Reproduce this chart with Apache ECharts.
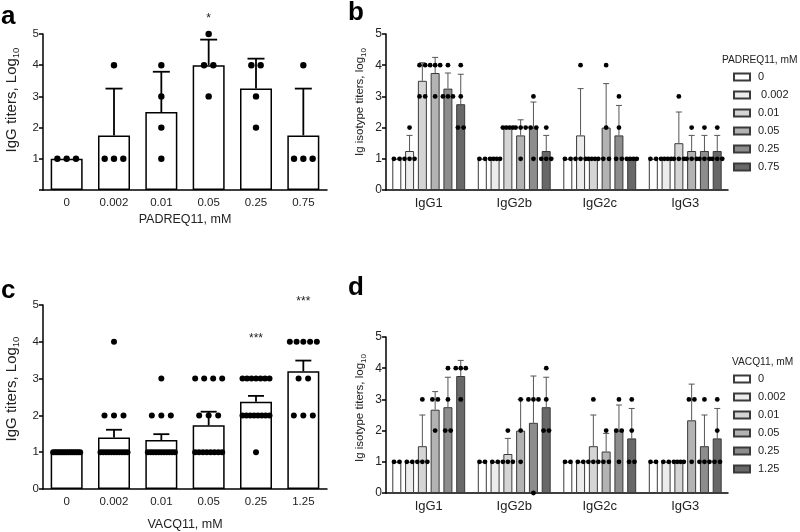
<!DOCTYPE html>
<html><head><meta charset="utf-8">
<script src="https://cdn.jsdelivr.net/npm/echarts@6.0.0/dist/echarts.min.js"></script>
<style>html,body{margin:0;padding:0;background:#fff}#chart{width:800px;height:532px}</style>
</head><body><div id="chart"></div><script>
// ---------- Panel a : PADREQ11 total IgG ----------
const catsA = ['0', '0.002', '0.01', '0.05', '0.25', '0.75'];
const meanA = [1, 1.75, 2.5, 4, 3.25, 1.75];
const errTopA = [null, 3.25, 3.79, 4.82, 4.21, 3.25];
const ptsA = [[1,1,1],[4,1,1,1],[4,3,2,1],[5,4,4,3],[4,4,3,2],[4,1,1,1]];
const sigA = ['', '', '', '*', '', ''];

// ---------- Panel c : VACQ11 total IgG ----------
const catsC = ['0', '0.002', '0.01', '0.05', '0.25', '1.25'];
const meanC = [1, 1.4, 1.33, 1.73, 2.37, 3.2];
const errTopC = [null, 1.61, 1.49, 2.1, 2.53, 3.49];
const ptsC = [
  [1,1,1,1,1,1,1,1,1,1,1,1,1,1,1],
  [4,2,2,2,1,1,1,1,1,1,1,1,1,1,1],
  [3,2,2,2,1,1,1,1,1,1,1,1,1,1,1],
  [3,3,3,3,2,2,2,1,1,1,1,1,1,1,1],
  [3,3,3,3,3,3,3,2,2,2,2,2,2,2,2,1],
  [4,4,4,4,4,3,3,2,2,2]
];
const sigC = ['', '', '', '', '***', '***'];

// ---------- Panel b : PADREQ11 isotypes ----------
const isotypes = ['IgG1', 'IgG2b', 'IgG2c', 'IgG3'];
const concB = ['0', '0.002', '0.01', '0.05', '0.25', '0.75'];
const meanB = [
  [1, 1, 1, 1],
  [1.25, 1, 1.75, 1],
  [3.5, 2, 1, 1.5],
  [3.75, 1.75, 2, 1.25],
  [3.25, 2, 1.75, 1.25],
  [2.75, 1.25, 1, 1.25]
];
const errTopB = [
  [null, null, null, null],
  [1.75, null, 3.25, null],
  [4.08, null, null, 2.5],
  [4.25, 2.25, 3.41, 1.75],
  [3.75, 2.82, 2.71, 1.75],
  [3.71, 1.75, null, 1.75]
];
const ptsB = [
  [[1,1],[1,1],[1,1],[1,1]],
  [[2,1,1,1],[1,1,1,1],[4,1,1,1],[1,1,1,1]],
  [[4,4,3,3],[2,2,2,2],[1,1,1,1],[3,1,1,1]],
  [[4,4,4,3],[2,2,2,1],[4,2,1,1],[2,1,1,1]],
  [[4,3,3,3],[3,2,2,1],[3,2,1,1],[2,1,1,1]],
  [[4,3,2,2],[2,1,1,1],[1,1,1,1],[2,1,1,1]]
];

// ---------- Panel d : VACQ11 isotypes ----------
const concD = ['0', '0.002', '0.01', '0.05', '0.25', '1.25'];
const meanD = [
  [1, 1, 1, 1],
  [1, 1, 1, 1],
  [1.5, 1.25, 1.5, 1],
  [2.67, 2, 1.33, 2.33],
  [2.75, 2.25, 2, 1.5],
  [3.75, 2.75, 1.75, 1.75]
];
const errTopD = [
  [null, null, null, null],
  [null, null, null, null],
  [2.5, 1.75, 2.5, null],
  [3.25, 3, 1.91, 3.49],
  [3.71, 3.75, 2.82, 2.5],
  [4.25, 3.71, 2.71, 2.71]
];
const ptsD = [
  [[1,1],[1,1],[1,1],[1,1]],
  [[1,1],[1,1],[1,1],[1,1]],
  [[3,1,1,1],[2,1,1,1],[3,1,1,1],[1,1,1,1]],
  [[3,3,2],[3,2,1],[2,1,1],[3,3,1]],
  [[4,3,2,2],[3,3,3,0],[3,2,2,1],[3,1,1,1]],
  [[4,4,4,3],[4,3,2,2],[3,2,1,1],[3,2,1,1]]
];

const greys = ['#ffffff', '#ececec', '#d5d5d5', '#b3b3b3', '#8d8d8d', '#686868'];
const FONT = '"Liberation Sans", Arial, Helvetica, sans-serif';
const TXT = '#222';

// spread identical values horizontally (GraphPad-like scatter)
function jitter(vals, step, maxSpan) {
  const groups = new Map();
  vals.forEach(v => { if (!groups.has(v)) groups.set(v, 0); groups.set(v, groups.get(v) + 1); });
  const out = [];
  groups.forEach((m, v) => {
    const sp = m > 1 ? Math.min(step, maxSpan / (m - 1)) : 0;
    for (let i = 0; i < m; i++) out.push([v, (i - (m - 1) / 2) * sp]);
  });
  return out;
}

function overlay(axisIdx, means, errTops, pts, sig, o) {
  // means/errTops/pts indexed [series][category]
  const data = [];
  means.forEach((row, s) => row.forEach((m, c) => data.push([c, m, s])));
  return {
    type: 'custom', xAxisIndex: axisIdx, yAxisIndex: axisIdx, z: 5, silent: true,
    data: data,
    renderItem(params, api) {
      const c = api.value(0), s = api.value(2);
      const nS = means.length;
      const dx = (s - (nS - 1) / 2) * o.barStep;
      const ch = [];
      const base = api.coord([c, means[s][c]]);
      const et = errTops[s][c];
      if (et != null) {
        const top = api.coord([c, et]);
        ch.push({type: 'line', shape: {x1: base[0] + dx, y1: base[1], x2: top[0] + dx, y2: top[1]},
          style: {stroke: o.errColor, lineWidth: o.errWidth}});
        ch.push({type: 'line', shape: {x1: top[0] + dx - o.cap, y1: top[1], x2: top[0] + dx + o.cap, y2: top[1]},
          style: {stroke: o.errColor, lineWidth: o.errWidth}});
      }
      const p = pts[s][c];
      jitter(p, o.step, o.maxSpan).forEach(([v, off]) => {
        const q = api.coord([c, v]);
        ch.push({type: 'circle', shape: {cx: q[0] + dx + off, cy: q[1], r: o.r}, style: {fill: '#000'}});
      });
      if (sig && sig[c]) {
        const q = api.coord([c, Math.max.apply(null, p)]);
        ch.push({type: 'text', style: {x: q[0] + dx, y: q[1] - o.sigOff, text: sig[c], fill: TXT,
          font: '12px ' + FONT, align: 'center', verticalAlign: 'middle'}});
      }
      return {type: 'group', children: ch};
    }
  };
}

function yAxis(gridIndex, nameParts, nameSize, subSize, nameGap, shift, labelSize, hideZero) {
  return {
    type: 'value', gridIndex, min: 0, max: 5, interval: 1,
    axisLine: {show: true, lineStyle: {color: '#000', width: 1.5}},
    axisTick: {show: true, length: 4, lineStyle: {color: '#000', width: 1.5}},
    axisLabel: {fontSize: labelSize, color: TXT, margin: 4, fontFamily: FONT,
      formatter: v => (hideZero && v === 0) ? '' : String(v)},
    splitLine: {show: false},
    name: '{t|' + nameParts[0] + '}{s|' + nameParts[1] + '}',
    nameLocation: 'middle', nameGap: nameGap, nameRotate: 90,
    nameTextStyle: {padding: [0, 0, 0, shift * 2], rich: {
      t: {fontSize: nameSize, fontFamily: FONT, color: TXT, lineHeight: nameSize + 4, verticalAlign: 'middle'},
      s: {fontSize: subSize, fontFamily: FONT, color: TXT, lineHeight: nameSize + 4, verticalAlign: 'bottom', padding: [5, 0, 0, 0]}
    }}
  };
}

function xAxis(gridIndex, cats, fontSize, name, nameGap) {
  const ax = {
    type: 'category', gridIndex, data: cats,
    axisLine: {show: true, lineStyle: {color: '#000', width: 1.5}},
    axisTick: {show: false},
    axisLabel: {fontSize: fontSize, color: TXT, margin: 7, fontFamily: FONT},
    splitLine: {show: false}
  };
  if (name) {
    ax.name = name; ax.nameLocation = 'middle'; ax.nameGap = nameGap;
    ax.nameTextStyle = {fontSize: 12.5, color: TXT, fontFamily: FONT};
  }
  return ax;
}

const series = [];
// panel a bars
series.push({type: 'bar', name: 'a', xAxisIndex: 0, yAxisIndex: 0, data: meanA, barWidth: 32,
  itemStyle: {color: '#fff', borderColor: '#000', borderWidth: 1.5}, silent: true});
series.push(overlay(0, [meanA], [errTopA], [ptsA], sigA,
  {barStep: 0, errColor: '#000', errWidth: 1.8, cap: 8.5, step: 9.3, maxSpan: 20, r: 3.2, sigOff: 15}));
// panel b bars
concB.forEach((cname, s) => series.push({type: 'bar', name: 'b:' + cname, xAxisIndex: 1, yAxisIndex: 1,
  data: meanB[s], barWidth: 9, barGap: '42%',
  itemStyle: {color: greys[s], borderColor: '#3a3a3a', borderWidth: 1}, silent: true}));
series.push(overlay(1, meanB, errTopB, ptsB, null,
  {barStep: 12.8, errColor: '#555', errWidth: 1, cap: 3, step: 5.7, maxSpan: 10, r: 2.4, sigOff: 0}));
// panel c bars
series.push({type: 'bar', name: 'c', xAxisIndex: 2, yAxisIndex: 2, data: meanC, barWidth: 32,
  itemStyle: {color: '#fff', borderColor: '#000', borderWidth: 1.5}, silent: true});
series.push(overlay(2, [meanC], [errTopC], [ptsC], sigC,
  {barStep: 0, errColor: '#000', errWidth: 1.8, cap: 8, step: 9.5, maxSpan: 27, r: 3, sigOff: 40}));
// panel d bars
concD.forEach((cname, s) => series.push({type: 'bar', name: 'd:' + cname, xAxisIndex: 3, yAxisIndex: 3,
  data: meanD[s], barWidth: 9, barGap: '42%',
  itemStyle: {color: greys[s], borderColor: '#3a3a3a', borderWidth: 1}, silent: true}));
series.push(overlay(3, meanD, errTopD, ptsD, null,
  {barStep: 12.8, errColor: '#555', errWidth: 1, cap: 3, step: 5.5, maxSpan: 10, r: 2.4, sigOff: 0}));

const legendCommon = {
  orient: 'vertical', itemWidth: 16, itemHeight: 7, itemGap: 4, icon: 'rect',
  selectedMode: false, padding: 0,
  textStyle: {fontSize: 11, color: TXT, fontFamily: FONT, lineHeight: 14, padding: [0, 0, 0, 3]}
};

const option = {
  animation: false,
  backgroundColor: '#fff',
  grid: [
    {left: 43, top: 34, width: 284, height: 156},
    {left: 386, top: 34, width: 342, height: 156},
    {left: 43, top: 305, width: 284, height: 188},
    {left: 386, top: 337, width: 342, height: 156}
  ],
  xAxis: [
    xAxis(0, catsA, 11.5, 'PADREQ11, mM', 23),
    xAxis(1, isotypes, 13, null, 0),
    xAxis(2, catsC, 11.5, 'VACQ11, mM', 29),
    xAxis(3, isotypes, 13, null, 0)
  ],
  yAxis: [
    yAxis(0, ['IgG titers, Log', '10'], 15, 9.5, 22, 12, 11.5, true),
    yAxis(1, ['Ig isotype titers, log', '10'], 11.5, 8, 18, 10, 12, false),
    yAxis(2, ['IgG titers, Log', '10'], 15, 9.5, 22, 8, 11.5, false),
    yAxis(3, ['Ig isotype titers, log', '10'], 11.5, 8, 18, 7, 12, false)
  ],
  legend: [
    Object.assign({}, legendCommon, {left: 733, top: 70, data: concB.map(c => 'b:' + c),
      formatter: n => { const v = n.split(':')[1]; return v === '0.002' ? ' ' + v : v; }}),
    Object.assign({}, legendCommon, {left: 733, top: 372, data: concD.map(c => 'd:' + c),
      formatter: n => n.split(':')[1]})
  ],
  graphic: [
    {type: 'text', left: 1, top: 4, style: {text: 'a', font: 'bold 26px ' + FONT, fill: '#000'}},
    {type: 'text', left: 348, top: 0, style: {text: 'b', font: 'bold 26px ' + FONT, fill: '#000'}},
    {type: 'text', left: 1, top: 278, style: {text: 'c', font: 'bold 26px ' + FONT, fill: '#000'}},
    {type: 'text', left: 348, top: 275, style: {text: 'd', font: 'bold 26px ' + FONT, fill: '#000'}},
    {type: 'text', left: 722, top: 55, style: {text: 'PADREQ11, mM', font: '10.2px ' + FONT, fill: TXT}},
    {type: 'text', left: 732, top: 357, style: {text: 'VACQ11, mM', font: '10.2px ' + FONT, fill: TXT}}
  ],
  series: series
};

const chart = echarts.init(document.getElementById('chart'), null, {renderer: 'canvas'});
chart.setOption(option);
</script></body></html>
